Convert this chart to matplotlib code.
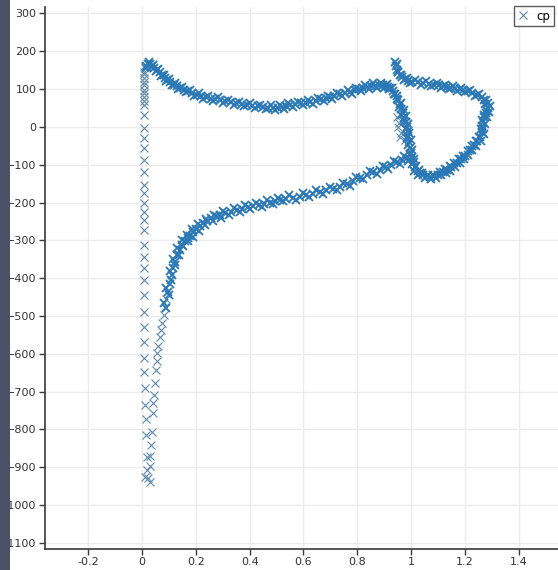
import matplotlib
matplotlib.use("Agg")
import matplotlib.pyplot as plt
from matplotlib.patches import Rectangle
import numpy as np

# upper surface: leading edge -> peak -> drop into the loop -> right end
upper_x = [0.015, 0.022, 0.030, 0.038, 0.046, 0.056, 0.065, 0.075, 0.085, 0.093,
           0.105, 0.117, 0.129, 0.141, 0.155, 0.170, 0.185, 0.204, 0.220, 0.237,
           0.255, 0.272, 0.290, 0.310, 0.330, 0.350, 0.370, 0.390, 0.410, 0.430,
           0.450, 0.470, 0.487, 0.505, 0.520, 0.535, 0.550, 0.570, 0.590, 0.610,
           0.625, 0.645, 0.665, 0.685, 0.699, 0.715, 0.735, 0.755, 0.773, 0.790,
           0.805, 0.820, 0.836, 0.850, 0.865, 0.880, 0.895, 0.907, 0.914, 0.922,
           0.933, 0.942, 0.952, 0.958, 0.964, 0.970, 0.975, 0.980, 0.985, 0.987,
           0.989, 0.992, 0.996, 1.000, 1.004, 1.009, 1.015, 1.024, 1.033, 1.045,
           1.058, 1.071, 1.085, 1.100, 1.119, 1.135, 1.150, 1.171, 1.185, 1.200,
           1.219, 1.232, 1.245, 1.257, 1.264, 1.268]
upper_y = [160, 167, 165, 160, 156, 151, 144, 136, 129, 124,
           118, 112, 107, 103, 98, 94, 90, 85, 81, 78,
           75, 73, 71, 68, 65, 62, 60, 58, 56, 54,
           52, 51, 50, 51, 53, 55, 58, 60, 62, 64,
           66, 69, 73, 76, 79, 82, 86, 90, 93, 97,
           100, 103, 106, 108, 109, 110, 110, 109, 106, 103,
           96, 86, 71, 60, 48, 37, 24, 12, 0, -12,
           -24, -40, -55, -68, -79, -93, -106, -116, -122, -128,
           -131, -132, -130, -126, -119, -113, -106, -95, -86, -76,
           -61, -49, -38, -26, -14, -6]

upper_band_x = [0.018, 0.026, 0.034, 0.042, 0.051, 0.060, 0.070, 0.080, 0.089, 0.099,
                0.111, 0.123, 0.135, 0.148, 0.162, 0.177, 0.194, 0.212, 0.228, 0.246,
                0.263, 0.281, 0.300, 0.320, 0.340, 0.360, 0.380, 0.400, 0.420, 0.440,
                0.460, 0.478, 0.496, 0.512, 0.527, 0.542, 0.560, 0.580, 0.600, 0.617,
                0.635, 0.655, 0.675, 0.692, 0.707, 0.725, 0.745, 0.764, 0.781, 0.797,
                0.812, 0.828, 0.843, 0.857, 0.872, 0.887, 0.901, 0.911, 0.918, 0.928,
                0.938, 0.947, 0.946, 0.962, 0.955, 0.973, 0.962, 0.981, 0.972, 0.989,
                0.980, 0.994, 0.983, 0.998, 0.990, 1.004, 0.995, 1.010, 1.004, 1.020,
                1.012, 1.030, 1.026, 1.040, 1.050, 1.062, 1.075, 1.080, 1.092, 1.108,
                1.112, 1.127, 1.128, 1.143, 1.145, 1.160, 1.162, 1.178, 1.180, 1.193,
                1.195, 1.210, 1.212, 1.226, 1.226, 1.240, 1.240, 1.252, 1.258]
upper_band_y = [158, 172, 158, 163, 148, 152, 135, 138, 121, 126,
                110, 115, 100, 106, 91, 97, 82, 89, 74, 82,
                69, 78, 64, 72, 58, 67, 54, 63, 50, 59,
                46, 57, 45, 58, 48, 62, 53, 67, 57, 71,
                61, 77, 68, 83, 75, 90, 82, 97, 88, 104,
                95, 110, 101, 115, 103, 117, 103, 114, 99, 104,
                88, 82, 75, 64, 52, 44, 32, 28, 16, 8,
                -6, -16, -30, -34, -48, -60, -72, -84, -98, -103,
                -116, -115, -128, -122, -136, -126, -138, -126, -134, -118,
                -128, -110, -122, -104, -116, -96, -106, -85, -96, -76,
                -86, -63, -74, -50, -60, -38, -50, -28, -38]

# upper part of the trailing loop
loop_x = [0.941, 0.944, 0.948, 0.953, 0.959, 0.968, 0.978, 0.990, 1.005, 1.025,
          1.045, 1.065, 1.085, 1.105, 1.120, 1.134, 1.150, 1.165, 1.180, 1.193,
          1.210, 1.228, 1.245, 1.262, 1.278, 1.286, 1.284, 1.278, 1.272, 1.268,
          1.265]
loop_y = [172, 160, 151, 144, 138, 131, 126, 122, 120, 118,
          116, 114, 112, 110, 108, 106, 104, 102, 100, 98,
          94, 90, 85, 78, 70, 62, 50, 38, 26, 14,
          2]
loop_band_x = [0.946, 0.951, 0.963, 0.973, 0.984, 0.997, 1.015, 1.035, 1.055, 1.075,
               1.095, 1.112, 1.127, 1.142, 1.157, 1.172, 1.187, 1.201, 1.219, 1.236,
               1.254, 1.270, 1.276, 1.292, 1.278, 1.290, 1.270, 1.282, 1.262, 1.274,
               1.258, 1.272]
loop_band_y = [166, 146, 136, 124, 128, 116, 124, 112, 121, 109,
               117, 104, 112, 100, 108, 96, 104, 92, 97, 83,
               86, 72, 60, 55, 45, 40, 32, 25, 18, 8,
               -5, -20]

# lower surface: from the suction minimum up to the trailing edge
lower_x = [0.030, 0.022, 0.030, 0.030, 0.034, 0.037, 0.041, 0.041, 0.045, 0.048,
           0.052, 0.054, 0.056, 0.060, 0.067, 0.070, 0.074, 0.080, 0.086, 0.090,
           0.096, 0.104, 0.110, 0.115, 0.122, 0.130, 0.141, 0.150, 0.160, 0.170,
           0.178, 0.190, 0.202, 0.215, 0.227, 0.242, 0.258, 0.275, 0.290, 0.310,
           0.330, 0.353, 0.373, 0.393, 0.413, 0.435, 0.455, 0.476, 0.495, 0.513,
           0.535, 0.560, 0.587, 0.610, 0.635, 0.662, 0.685, 0.710, 0.736, 0.760,
           0.785, 0.810, 0.835, 0.860, 0.885, 0.905, 0.925, 0.948, 0.965, 0.985,
           0.995]
lower_y = [-939, -929, -897, -870, -841, -807, -757, -730, -709, -677,
           -643, -620, -598, -578, -556, -537, -519, -497, -476, -455,
           -436, -415, -392, -372, -356, -340, -325, -313, -302, -294,
           -288, -278, -270, -262, -255, -248, -241, -236, -232, -228,
           -224, -220, -216, -212, -209, -206, -203, -200, -196, -193,
           -190, -188, -185, -181, -177, -172, -168, -164, -159, -152,
           -144, -135, -127, -120, -114, -107, -100, -93, -88, -82,
           -85]
lower_band_x = [0.090, 0.082, 0.099, 0.090, 0.109, 0.103, 0.122, 0.114, 0.138, 0.129,
                0.154, 0.148, 0.172, 0.168, 0.190, 0.186, 0.210, 0.208, 0.234, 0.236,
                0.262, 0.266, 0.292, 0.300, 0.325, 0.340, 0.365, 0.383, 0.403, 0.424,
                0.445, 0.466, 0.486, 0.504, 0.524, 0.547, 0.573, 0.598, 0.622, 0.648,
                0.673, 0.697, 0.723, 0.748, 0.772, 0.797, 0.822, 0.847, 0.872, 0.895,
                0.915, 0.937, 0.957, 0.975, 0.990]
lower_band_y = [-480, -466, -445, -426, -405, -382, -365, -350, -338, -320,
                -316, -300, -302, -285, -290, -270, -274, -258, -260, -244,
                -250, -232, -242, -223, -233, -214, -225, -207, -218, -200,
                -212, -194, -205, -187, -197, -181, -193, -176, -186, -167,
                -178, -158, -168, -148, -155, -133, -138, -117, -124, -103,
                -110, -90, -97, -78, -90]

# sparse column of points near x = 0
column_x = [0.012, 0.011, 0.009, 0.008, 0.008, 0.007, 0.008, 0.006, 0.007, 0.008,
            0.007, 0.008, 0.008, 0.007, 0.008, 0.008, 0.007, 0.008, 0.008, 0.007,
            0.008, 0.007, 0.007, 0.008, 0.008, 0.007, 0.008, 0.007, 0.008, 0.007,
            0.007, 0.008, 0.007, 0.007, 0.011, 0.011, 0.015, 0.015, 0.018, 0.018,
            0.011]
column_y = [158, 155, 140, 146, 130, 120, 111, 98, 90, 79,
            68, 58, 32, -3, -29, -56, -87, -119, -153, -175,
            -201, -225, -246, -272, -312, -344, -373, -405, -444, -489,
            -529, -569, -611, -648, -690, -735, -772, -815, -873, -907,
            -925]

# stray points below the trailing-edge cusp
stray_x = [0.948, 0.955, 0.952, 0.962, 0.959, 0.978]
stray_y = [26, 10, 0, -15, -26, -34]

BLUE = "#2b78b6"
SPARSE = "#5f89ad"

fig = plt.figure(figsize=(5.58, 5.70), dpi=100)
fig.patches.append(Rectangle((0, 0), 10 / 558, 1, transform=fig.transFigure,
                             facecolor="#4a5168", edgecolor="none", zorder=0))

ax = fig.add_axes([45 / 558, 21 / 570, 513 / 558, 542 / 570])
ax.set_xlim(-0.3606, 1.546)
ax.set_ylim(-1116, 317)

# sparse points (thin strokes) and dense bands (heavier strokes) of the same series
sparse_x = column_x + lower_x[:20] + stray_x
sparse_y = column_y + lower_y[:20] + stray_y
dense_x = lower_x[20:] + lower_band_x + upper_x + upper_band_x + loop_x + loop_band_x
dense_y = lower_y[20:] + lower_band_y + upper_y + upper_band_y + loop_y + loop_band_y
ax.plot(sparse_x, sparse_y, linestyle="none", marker="x", markersize=5.5,
        markeredgewidth=0.8, color=SPARSE)
ax.plot(dense_x, dense_y, linestyle="none", marker="x", markersize=6,
        markeredgewidth=1.3, color=BLUE)

ax.set_xticks(np.arange(-0.2, 1.41, 0.2))
ax.set_xticklabels(["-0.2", "0", "0.2", "0.4", "0.6", "0.8", "1", "1.2", "1.4"])
ax.set_yticks(np.arange(-1100, 301, 100))
ax.grid(True, color="#ececec", linewidth=1.0)
ax.set_axisbelow(True)

for side in ("top", "right"):
    ax.spines[side].set_visible(False)
for side in ("left", "bottom"):
    ax.spines[side].set_color("#3a3a3a")
    ax.spines[side].set_linewidth(1.2)
ax.tick_params(direction="out", length=4, width=1, color="#3a3a3a",
               labelsize=8, labelcolor="#333333", pad=2)

handle = plt.Line2D([], [], linestyle="none", marker="x", markersize=6,
                    markeredgewidth=0.8, color=SPARSE)
fig.legend([handle], ["cp"], loc="upper left",
           bbox_to_anchor=(514 / 558, 1 - 6 / 570),
           bbox_transform=fig.transFigure, borderaxespad=0, frameon=True,
           fancybox=False, edgecolor="#333333", fontsize=8.5,
           handlelength=1.0, handletextpad=0.6, borderpad=0.3)

fig.savefig("out.png", dpi=100)
